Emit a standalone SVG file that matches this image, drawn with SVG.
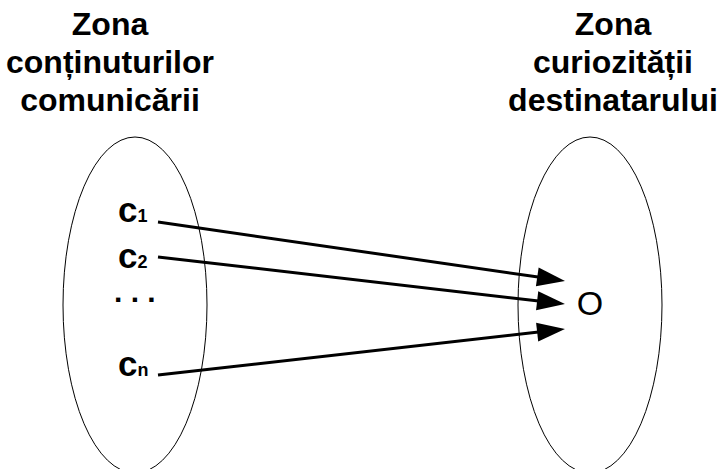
<svg xmlns="http://www.w3.org/2000/svg" width="719" height="469" viewBox="0 0 719 469">
<style>
.title{font-family:"Liberation Sans",Arial,sans-serif;font-weight:bold;font-size:32px;text-anchor:middle;fill:#000}
.zone{fill:none;stroke:#000;stroke-width:1}
.lbl{font-family:"Liberation Sans",Arial,sans-serif;font-weight:bold;font-size:35px;fill:#000}
.sub{font-size:18px}
.dots{font-family:"Liberation Sans",Arial,sans-serif;font-weight:bold;font-size:30px;fill:#000}
.o{font-family:"Liberation Sans",Arial,sans-serif;font-size:34px;text-anchor:middle;fill:#000}
.conn{stroke:#000;stroke-width:3;fill:none;marker-end:url(#ah)}
</style>
<defs>
<marker id="ah" markerUnits="userSpaceOnUse" markerWidth="28" markerHeight="19" refX="8" refY="9.5" orient="auto" overflow="visible">
<path d="M0,0 L28,9.5 L0,19 Z" fill="#000"/>
</marker>
</defs>
<rect width="719" height="469" fill="#fff"/>
<g id="zone-left">
<ellipse class="zone" cx="135" cy="305" rx="72" ry="168"/>
<text class="title" x="110" y="35">Zona</text>
<text class="title" x="110" y="73">conținuturilor</text>
<text class="title" x="110" y="111">comunicării</text>
</g>
<g id="zone-right">
<ellipse class="zone" cx="590" cy="305" rx="72" ry="168"/>
<text class="title" x="613" y="35">Zona</text>
<text class="title" x="613" y="73">curiozității</text>
<text class="title" x="613" y="111">destinatarului</text>
</g>
<g id="c1"><text class="lbl" x="118" y="222">c<tspan class="sub">1</tspan></text></g>
<g id="c2"><text class="lbl" x="118" y="268">c<tspan class="sub">2</tspan></text></g>
<g id="dots"><text class="dots" x="114" y="302">. . .</text></g>
<g id="cn"><text class="lbl" x="118" y="376">c<tspan class="sub">n</tspan></text></g>
<g id="o"><text class="o" x="590" y="315">O</text></g>
<g id="connectors">
<line class="conn" x1="158" y1="222" x2="545.2" y2="278.1"/>
<line class="conn" x1="158" y1="257" x2="545.1" y2="301.7"/>
<line class="conn" x1="158" y1="375" x2="545.1" y2="331.2"/>
</g>
</svg>
